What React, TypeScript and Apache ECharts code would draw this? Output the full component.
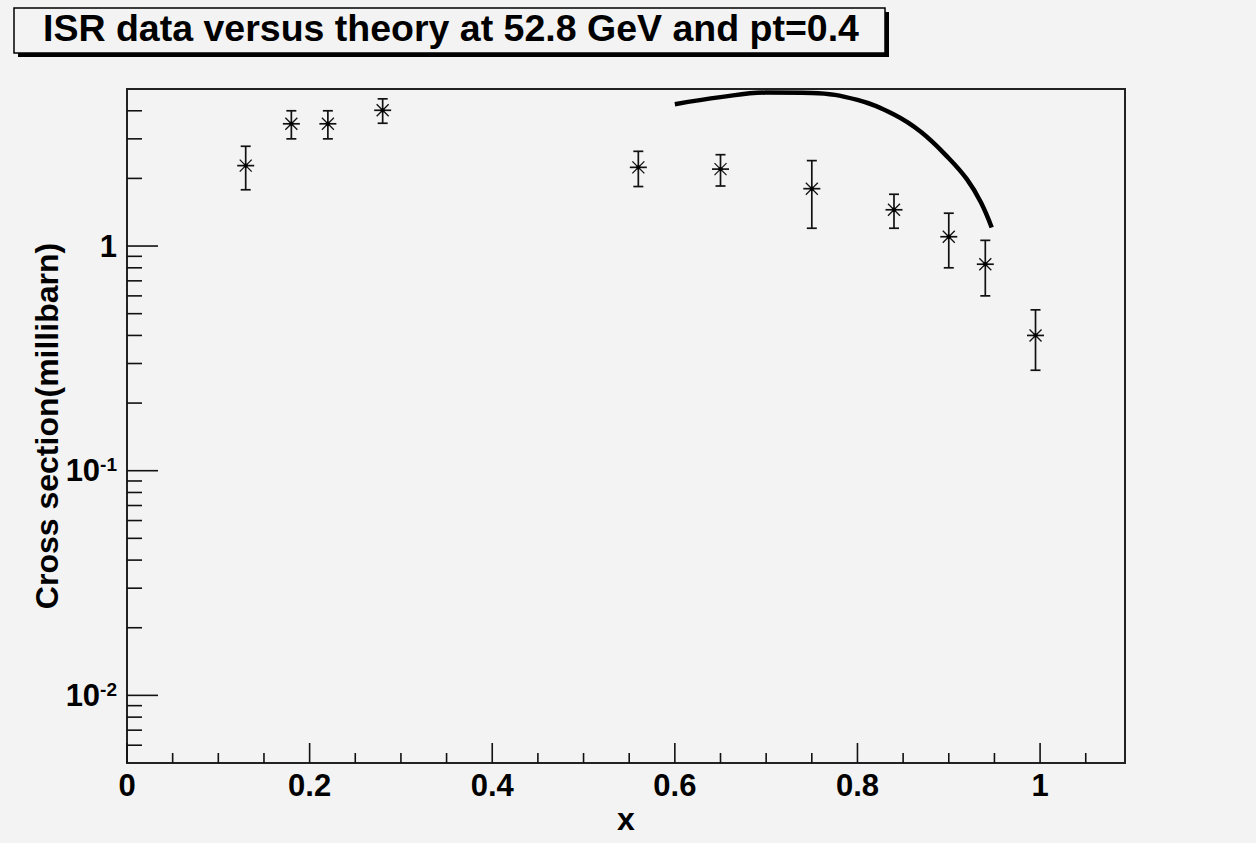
import React, { useEffect, useRef } from "react";
import * as echarts from "echarts";

const chartTitle = "ISR data versus theory at 52.8 GeV and pt=0.4";
const xTitle = "x";
const yTitle = "Cross section(millibarn)";

// measured points (x, cross section, symmetric error)
const dataX = [0.13, 0.18, 0.22, 0.28, 0.56, 0.65, 0.75, 0.84, 0.9, 0.94, 0.995];
const dataY = [2.28, 3.5, 3.5, 4.02, 2.24, 2.2, 1.8, 1.45, 1.1, 0.83, 0.4];
const dataErr = [0.5, 0.5, 0.5, 0.5, 0.4, 0.35, 0.6, 0.25, 0.3, 0.23, 0.12];

// theory curve
const curveX = [0.6, 0.65, 0.7, 0.75, 0.8, 0.84, 0.87, 0.9, 0.92, 0.935, 0.947];
const curveY = [4.28, 4.6, 4.82, 4.8, 4.47, 3.85, 3.21, 2.46, 1.98, 1.57, 1.21];

const xRange = [0, 1.093];
const yRange = [0.005, 5];

const xMajorTicks = [0, 0.2, 0.4, 0.6, 0.8, 1.0];
const xMinorTicks = [0.05, 0.1, 0.15, 0.25, 0.3, 0.35, 0.45, 0.5, 0.55, 0.65, 0.7, 0.75, 0.85, 0.9, 0.95, 1.05];
const yMajorTicks = [0.01, 0.1, 1];
const yMinorTicks = [
  0.006, 0.007, 0.008, 0.009,
  0.02, 0.03, 0.04, 0.05, 0.06, 0.07, 0.08, 0.09,
  0.2, 0.3, 0.4, 0.5, 0.6, 0.7, 0.8, 0.9,
  2, 3, 4,
];

const FONT = '"Liberation Sans", Arial, Helvetica, sans-serif';
const BG = "#f3f3f3";
const INK = "#111";

export default function App() {
  const ref = useRef<HTMLDivElement>(null);

  useEffect(() => {
    document.body.style.margin = "0";
    document.body.style.background = BG;
    if (!ref.current) return;
    const chart = echarts.init(ref.current, undefined, { renderer: "svg" });

    // tick kinds: 0 x-major, 1 x-minor, 2 y-major, 3 y-minor
    const tickData: number[][] = [
      ...xMajorTicks.map((v) => [v, yRange[0], 0]),
      ...xMinorTicks.map((v) => [v, yRange[0], 1]),
      ...yMajorTicks.map((v) => [xRange[0], v, 2]),
      ...yMinorTicks.map((v) => [xRange[0], v, 3]),
    ];
    const tickLen = [20, 10, 31, 15];

    const pointData = dataX.map((x, i) => [x, dataY[i], dataErr[i]]);
    const curveData = curveX.map((x, i) => [x, curveY[i]]);

    const labelFormatter = (v: number) => {
      const e = Math.round(Math.log10(v));
      if (e === 0) return "{b|1}";
      if (e === 1) return "{b|10}";
      return "{b|10}{s|" + e + "}";
    };

    const option: any = {
      animation: false,
      backgroundColor: BG,
      textStyle: { fontFamily: FONT },
      grid: {
        left: 127,
        top: 89,
        right: 131,
        bottom: 80,
        show: true,
        borderColor: "#222",
        borderWidth: 2,
        backgroundColor: "transparent",
      },
      xAxis: {
        type: "value",
        min: xRange[0],
        max: xRange[1],
        interval: 0.2,
        name: xTitle,
        nameLocation: "middle",
        nameGap: 40,
        nameMoveOverlap: false,
        nameTextStyle: { fontSize: 32, fontWeight: "bold", color: "#000", fontFamily: FONT },
        axisLine: { show: false },
        axisTick: { show: false },
        splitLine: { show: false },
        axisLabel: {
          showMaxLabel: false,
          margin: 7,
          fontSize: 31,
          fontWeight: "bold",
          color: "#000",
          fontFamily: FONT,
          formatter: (v: number) => String(Math.round(v * 10) / 10),
        },
      },
      yAxis: {
        type: "log",
        logBase: 10,
        min: yRange[0],
        max: yRange[1],
        name: yTitle,
        nameLocation: "middle",
        nameGap: 64,
        nameMoveOverlap: false,
        nameTextStyle: { fontSize: 32, fontWeight: "bold", color: "#000", fontFamily: FONT },
        axisLine: { show: false },
        axisTick: { show: false },
        splitLine: { show: false },
        minorTick: { show: false },
        axisLabel: {
          showMinLabel: false,
          showMaxLabel: false,
          margin: 10,
          color: "#000",
          formatter: labelFormatter,
          rich: {
            b: { fontSize: 31, fontWeight: "bold", fontFamily: FONT, color: "#000", lineHeight: 31 },
            s: { fontSize: 19, fontWeight: "bold", fontFamily: FONT, color: "#000", lineHeight: 15, verticalAlign: "top" },
          },
        },
      },
      graphic: [
        { type: "rect", shape: { x: 18, y: 12, width: 871, height: 45 }, style: { fill: "#000" }, z: 10 },
        { type: "rect", shape: { x: 14, y: 8, width: 871, height: 45 }, style: { fill: BG, stroke: "#000", lineWidth: 1.5 }, z: 11 },
        {
          type: "text",
          x: 451,
          y: 28,
          z: 12,
          style: {
            text: chartTitle,
            font: "bold 37.5px " + FONT,
            fill: "#000",
            align: "center",
            verticalAlign: "middle",
            textAlign: "center",
            textVerticalAlign: "middle",
          },
        },
      ],
      series: [
        {
          type: "custom",
          name: "ticks",
          silent: true,
          clip: false,
          data: tickData,
          encode: { x: 0, y: 1 },
          renderItem: (_p: any, api: any) => {
            const kind = api.value(2);
            const c = api.coord([api.value(0), api.value(1)]);
            const len = tickLen[kind];
            const shape =
              kind < 2
                ? { x1: c[0], y1: c[1], x2: c[0], y2: c[1] - len }
                : { x1: c[0], y1: c[1], x2: c[0] + len, y2: c[1] };
            return { type: "line", shape, style: { stroke: INK, lineWidth: 1.6 } };
          },
        },
        {
          type: "line",
          name: "theory",
          data: curveData,
          smooth: 0.4,
          showSymbol: false,
          symbol: "none",
          lineStyle: { color: "#000", width: 4.5 },
          z: 3,
        },
        {
          type: "custom",
          name: "data",
          data: pointData,
          encode: { x: 0, y: 1 },
          z: 4,
          renderItem: (_p: any, api: any) => {
            const x = api.value(0);
            const y = api.value(1);
            const e = api.value(2);
            const c = api.coord([x, y]);
            const t = api.coord([x, y + e]);
            const b = api.coord([x, y - e]);
            const st = { stroke: INK, lineWidth: 1.7 };
            const cap = 5;
            const m = 8.5;
            const d = 6;
            return {
              type: "group",
              children: [
                { type: "line", shape: { x1: c[0], y1: t[1], x2: c[0], y2: b[1] }, style: st },
                { type: "line", shape: { x1: c[0] - cap, y1: t[1], x2: c[0] + cap, y2: t[1] }, style: st },
                { type: "line", shape: { x1: c[0] - cap, y1: b[1], x2: c[0] + cap, y2: b[1] }, style: st },
                { type: "line", shape: { x1: c[0] - m, y1: c[1], x2: c[0] + m, y2: c[1] }, style: st },
                { type: "line", shape: { x1: c[0] - d, y1: c[1] - d, x2: c[0] + d, y2: c[1] + d }, style: { stroke: INK, lineWidth: 1.3 } },
                { type: "line", shape: { x1: c[0] - d, y1: c[1] + d, x2: c[0] + d, y2: c[1] - d }, style: { stroke: INK, lineWidth: 1.3 } },
                { type: "circle", shape: { cx: c[0], cy: c[1], r: 2.2 }, style: { fill: "#000" } },
              ],
            };
          },
        },
      ],
    };

    chart.setOption(option);
    return () => chart.dispose();
  }, []);

  return <div ref={ref} style={{ width: 1256, height: 843 }} />;
}
